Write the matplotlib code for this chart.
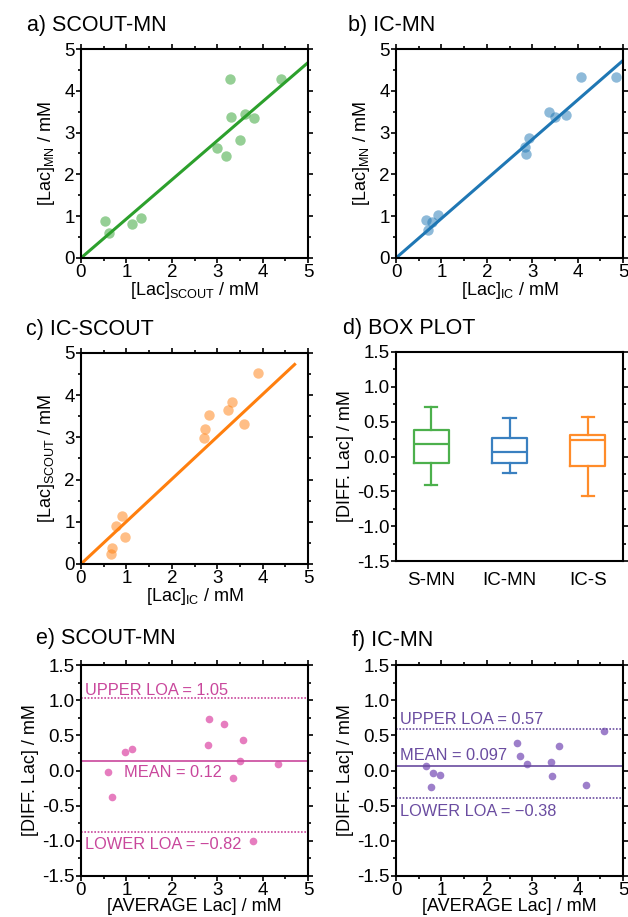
import numpy as np
import matplotlib
matplotlib.use('Agg')
import matplotlib.pyplot as plt
from matplotlib.ticker import MultipleLocator

plt.rcParams['font.family'] = ['Liberation Sans', 'DejaVu Sans']
plt.rcParams['mathtext.fontset'] = 'custom'
plt.rcParams['mathtext.rm'] = 'Liberation Sans'
plt.rcParams['mathtext.it'] = 'Liberation Sans'
plt.rcParams['axes.unicode_minus'] = True

# --- data ---
# a) SCOUT vs MN
scout_a = [0.53, 0.62, 1.12, 1.32, 3.0, 3.2, 3.28, 3.3, 3.5, 3.61, 3.8, 4.4]
mn_a = [0.88, 0.61, 0.81, 0.96, 2.62, 2.45, 4.29, 3.38, 2.82, 3.44, 3.34, 4.28]
# b) IC vs MN
ic_b = [0.67, 0.71, 0.80, 0.93, 2.84, 2.86, 2.93, 3.37, 3.5, 3.74, 4.08, 4.85]
mn_b = [0.91, 0.66, 0.86, 1.02, 2.66, 2.48, 2.86, 3.49, 3.38, 3.43, 4.32, 4.32]
# c) IC vs SCOUT
ic_c = [0.65, 0.69, 0.78, 0.91, 0.98, 2.72, 2.74, 2.81, 3.24, 3.33, 3.59, 3.90]
scout_c = [0.24, 0.38, 0.89, 1.13, 0.64, 2.99, 3.21, 3.52, 3.64, 3.85, 3.32, 4.53]
# fitted lines (slope, end of line on x)
fit_slope = [0.935, 0.945, 1.005]
fit_xend = [5.0, 5.0, 4.73]

# d) box plot stats: whislo, q1, med, q3, whishi
box_names = ['S-MN', 'IC-MN', 'IC-S']
box_whislo = [-0.41, -0.24, -0.57]
box_q1 = [-0.09, -0.09, -0.14]
box_med = [0.18, 0.06, 0.24]
box_q3 = [0.38, 0.26, 0.31]
box_whishi = [0.71, 0.55, 0.56]

# e) Bland-Altman SCOUT-MN
avg_e = [0.60, 0.69, 0.96, 1.13, 2.80, 2.82, 3.15, 3.34, 3.51, 3.57, 3.79, 4.33]
diff_e = [-0.02, -0.38, 0.26, 0.31, 0.36, 0.73, 0.66, -0.10, 0.13, 0.43, -1.00, 0.09]
lines_e = [0.13, 1.03, -0.87]  # mean, upper, lower
text_e = ['MEAN = 0.12', 'UPPER LOA = 1.05', 'LOWER LOA = \u22120.82']
# f) Bland-Altman IC-MN
avg_f = [0.66, 0.82, 0.78, 0.97, 2.66, 2.74, 2.89, 3.42, 3.43, 3.58, 4.19, 4.59]
diff_f = [0.07, -0.03, -0.23, -0.06, 0.39, 0.20, 0.09, 0.12, -0.08, 0.35, -0.21, 0.56]
lines_f = [0.07, 0.595, -0.39]
text_f = ['MEAN = 0.097', 'UPPER LOA = 0.57', 'LOWER LOA = \u22120.38']

W, H = 628, 917
TICK_FS = 13.5
LAB_FS = 13
fig = plt.figure(figsize=(W / 100, H / 100), dpi=100)


def add_ax(x0, y0, x1, y1):
    # pixel box -> figure fraction
    return fig.add_axes([x0 / W, 1 - y1 / H, (x1 - x0) / W, (y1 - y0) / H])


def style(ax):
    for s in ax.spines.values():
        s.set_linewidth(1.5)
    ax.tick_params(which='both', direction='out', top=True, right=True,
                   labelsize=TICK_FS, width=1.2, pad=1)
    ax.tick_params(which='major', length=3.5)
    ax.tick_params(which='minor', length=2)


def title(x, y, s):
    fig.text(x / W, 1 - y / H, s, fontsize=15.5, va='baseline', ha='left')


def scatter_panel(ax, x, y, col, slope, xend, xlabel, ylabel):
    ax.plot(x, y, 'o', color=col, alpha=0.5, ms=7.5, mec='none')
    xx = np.array([0, xend])
    ax.plot(xx, slope * xx, color=col, lw=2.2, solid_capstyle='butt')
    ax.set_xlim(0, 5)
    ax.set_ylim(0, 5)
    ax.xaxis.set_major_locator(MultipleLocator(1))
    ax.yaxis.set_major_locator(MultipleLocator(1))
    ax.xaxis.set_minor_locator(MultipleLocator(0.5))
    ax.yaxis.set_minor_locator(MultipleLocator(0.5))
    ax.set_xlabel(xlabel, fontsize=LAB_FS, labelpad=-1)
    ax.set_ylabel(ylabel, fontsize=LAB_FS, labelpad=5)
    style(ax)


ax_a = add_ax(81, 49, 308, 258)
scatter_panel(ax_a, scout_a, mn_a, '#2ca02c', fit_slope[0], fit_xend[0],
              r'[Lac]$_{\mathrm{SCOUT}}$ / mM', r'[Lac]$_{\mathrm{MN}}$ / mM')
title(27, 31, 'a) SCOUT-MN')

ax_b = add_ax(396, 49, 623, 258)
scatter_panel(ax_b, ic_b, mn_b, '#1f77b4', fit_slope[1], fit_xend[1],
              r'[Lac]$_{\mathrm{IC}}$ / mM', r'[Lac]$_{\mathrm{MN}}$ / mM')
title(348, 31, 'b) IC-MN')

ax_c = add_ax(81, 353, 308, 564)
scatter_panel(ax_c, ic_c, scout_c, '#ff7f0e', fit_slope[2], fit_xend[2],
              r'[Lac]$_{\mathrm{IC}}$ / mM', r'[Lac]$_{\mathrm{SCOUT}}$ / mM')
title(26, 335, 'c) IC-SCOUT')

# box plot
ax_d = add_ax(396, 352, 623, 561)
box_cols = ['#4cb04c', '#3a80c0', '#ff8c2a']
stats = []
for i in range(3):
    stats.append(dict(label=box_names[i], whislo=box_whislo[i], q1=box_q1[i],
                      med=box_med[i], q3=box_q3[i], whishi=box_whishi[i], fliers=[]))
for i in range(3):
    c = box_cols[i]
    ax_d.bxp([stats[i]], positions=[i + 1], widths=0.45, capwidths=0.16,
             showfliers=False,
             boxprops=dict(color=c, lw=1.6), medianprops=dict(color=c, lw=1.6),
             whiskerprops=dict(color=c, lw=1.6), capprops=dict(color=c, lw=1.6))
ax_d.set_xlim(0.55, 3.45)
ax_d.set_ylim(-1.5, 1.5)
ax_d.yaxis.set_major_locator(MultipleLocator(0.5))
ax_d.yaxis.set_minor_locator(MultipleLocator(0.25))
ax_d.set_ylabel('[DIFF. Lac] / mM', fontsize=LAB_FS, labelpad=2)
style(ax_d)
ax_d.tick_params(axis='x', which='both', length=0, pad=8, top=False)
ax_d.yaxis.set_major_formatter(matplotlib.ticker.FormatStrFormatter('%.1f'))
title(343, 334, 'd) BOX PLOT')


def ba_panel(ax, x, y, pcol, lcol, lines, texts, tpos):
    ax.plot(x, y, 'o', color=pcol, ms=5.5, mec='none')
    ax.axhline(lines[0], color=lcol, lw=1.2)
    ax.axhline(lines[1], color=lcol, lw=1.2, ls=(0, (1, 1)))
    ax.axhline(lines[2], color=lcol, lw=1.2, ls=(0, (1, 1)))
    for t, (tx, ty) in zip(texts, tpos):
        ax.text(tx, ty, t, color=lcol, fontsize=11.8, va='center', ha='left')
    ax.set_xlim(0, 5)
    ax.set_ylim(-1.5, 1.5)
    ax.xaxis.set_major_locator(MultipleLocator(1))
    ax.xaxis.set_minor_locator(MultipleLocator(0.5))
    ax.yaxis.set_major_locator(MultipleLocator(0.5))
    ax.yaxis.set_minor_locator(MultipleLocator(0.25))
    ax.yaxis.set_major_formatter(matplotlib.ticker.FormatStrFormatter('%.1f'))
    ax.set_xlabel('[AVERAGE Lac] / mM', fontsize=LAB_FS, labelpad=-1)
    ax.set_ylabel('[DIFF. Lac] / mM', fontsize=LAB_FS, labelpad=2)
    style(ax)


ax_e = add_ax(81, 665, 308, 876)
ba_panel(ax_e, avg_e, diff_e, '#e67dbf', '#c9479c', lines_e, text_e,
         [(0.95, -0.03), (0.08, 1.14), (0.08, -1.05)])
title(36, 644, 'e) SCOUT-MN')

ax_f = add_ax(396, 665, 623, 876)
ba_panel(ax_f, avg_f, diff_f, '#9d7fca', '#6a4ca0', lines_f, text_f,
         [(0.08, 0.22), (0.08, 0.72), (0.08, -0.59)])
title(352, 646, 'f) IC-MN')

fig.savefig('out.png', dpi=100)
